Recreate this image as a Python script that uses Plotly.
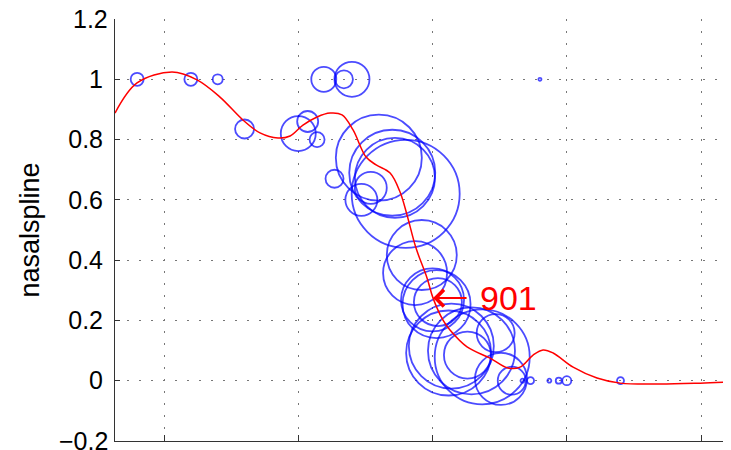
import plotly.graph_objects as go

# bubble observations (x, value, bubble size)
circ_x = [0.80, 1.20, 1.40, 1.60, 2.00, 2.07, 2.14, 2.19, 2.34, 2.40, 2.27,
          2.60, 2.70, 2.72, 2.80, 2.54, 2.47, 2.92, 2.87, 3.00, 3.03, 3.04,
          3.12, 3.14, 3.29, 3.37, 3.47, 3.26, 3.51, 3.59, 3.67, 3.73, 3.87,
          3.94, 4.00, 4.40, 3.80]
circ_y = [1.00, 1.00, 1.00, 0.835, 0.82, 0.86, 0.80, 1.00, 1.00, 1.00, 0.67,
          0.74, 0.69, 0.673, 0.62, 0.64, 0.60, 0.417, 0.357, 0.268, 0.254, 0.261,
          0.092, 0.115, 0.099, 0.079, 0.158, 0.085, 0.006, 0.0, 0.0, 0.0, 0.0,
          0.0, 0.0, 0.0, 1.00]
circ_size = [13, 13, 10, 19, 35, 21, 15, 25, 18, 35, 18,
             86, 86, 80, 108, 32, 32, 70, 64, 63, 68, 48,
             85, 85, 87, 95, 38, 47, 52, 28, 4, 7, 4,
             6, 9, 7, 3]

# smoothing spline
spline_x = [0.635, 0.799, 1.060, 1.246, 1.417, 1.588, 1.715, 1.849, 1.939, 2.035,
            2.140, 2.237, 2.326, 2.408, 2.505, 2.580, 2.684, 2.758, 2.810, 2.877,
            2.959, 3.004, 3.078, 3.130, 3.257, 3.428, 3.562, 3.652, 3.749, 3.823,
            3.898, 4.047, 4.225, 4.397, 4.695, 4.993, 5.223]
spline_y = [0.888, 0.988, 1.024, 0.998, 0.941, 0.865, 0.822, 0.805, 0.812, 0.848,
            0.875, 0.888, 0.882, 0.832, 0.742, 0.716, 0.689, 0.626, 0.550, 0.440,
            0.341, 0.274, 0.201, 0.168, 0.112, 0.075, 0.042, 0.045, 0.085, 0.102,
            0.092, 0.045, 0.009, -0.008, -0.011, -0.008, -0.004]

y_ticks = [-0.2, 0, 0.2, 0.4, 0.6, 0.8, 1.0, 1.2]
y_ticktext = ["\u22120.2", "0", "0.2", "0.4", "0.6", "0.8", "1", "1.2"]
x_ticks = [1, 2, 3, 4, 5]
# end-of-range labels that the axis drops because they touch the page edge
edge_ticks = [(-0.2, "\u22120.2"), (1.2, "1.2")]

label_x, label_y, label_text = 3.004, 0.274, "901"

FONT = "Liberation Sans, Arial, Helvetica"

fig = go.Figure()
fig.add_trace(go.Scatter(
    x=circ_x, y=circ_y, mode="markers",
    marker=dict(size=circ_size, color="rgba(0,0,0,0)",
                line=dict(color="#0000ff", width=1.8)),
    showlegend=False, hoverinfo="skip"))
fig.add_trace(go.Scatter(
    x=spline_x, y=spline_y, mode="lines", line_shape="spline",
    line=dict(color="#ff0000", width=1.5), showlegend=False))

fig.add_annotation(x=label_x, y=label_y, xref="x", yref="y", text="",
                   showarrow=True, ax=35, ay=0, arrowhead=4, arrowsize=1.6,
                   arrowwidth=2, arrowcolor="#ff0000")
fig.add_annotation(x=label_x, y=label_y, xref="x", yref="y", text=label_text,
                   showarrow=False, xanchor="left", yanchor="middle", xshift=45,
                   font=dict(family=FONT, size=34, color="#ff0000"))

for val, txt in edge_ticks:
    fig.add_annotation(x=0, xref="paper", y=val, yref="y", text=txt,
                       showarrow=False, xanchor="right", yanchor="middle",
                       xshift=-5, font=dict(family=FONT, size=25, color="#000"))

grid_dash = "2px,10px"
fig.update_xaxes(range=[0.635, 5.223], tickvals=x_ticks, showticklabels=False,
                 ticks="inside", ticklen=6, tickcolor="#333", automargin=False,
                 showline=True, linecolor="#333", linewidth=1, mirror=False,
                 showgrid=True, gridcolor="#777", gridwidth=1, griddash=grid_dash,
                 zeroline=False)
fig.update_yaxes(range=[-0.2, 1.2], tickvals=y_ticks, ticktext=y_ticktext,
                 ticks="inside", ticklen=5, tickcolor="#333", automargin=False,
                 showline=True, linecolor="#333", linewidth=1, mirror=False,
                 showgrid=True, gridcolor="#777", gridwidth=1, griddash=grid_dash,
                 zeroline=False, ticklabelstandoff=6,
                 tickfont=dict(family=FONT, size=25, color="#000"),
                 title=dict(text="nasalspline", standoff=20,
                            font=dict(family=FONT, size=27, color="#000")))
# the page body has an 8px default margin, so the figure is sized/offset to fit
fig.update_layout(width=723, height=442, plot_bgcolor="white", paper_bgcolor="white",
                  margin=dict(l=107, r=0, t=11, b=9, autoexpand=False))
fig.write_html("out.html")
